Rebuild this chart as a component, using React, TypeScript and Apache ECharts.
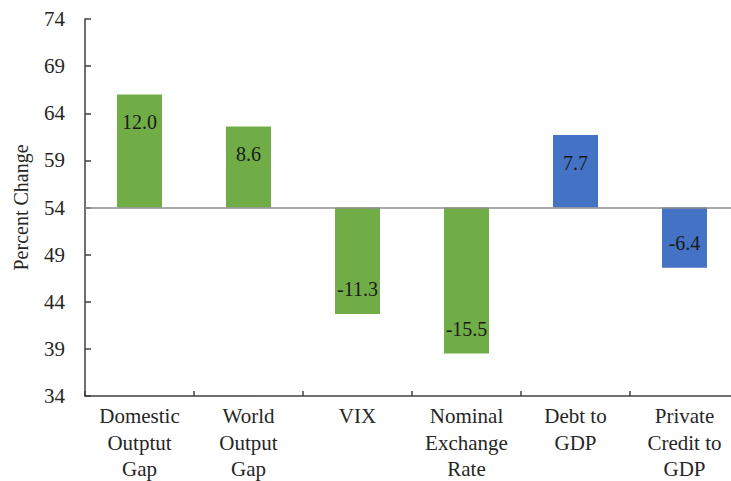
import React, { useEffect, useRef } from "react";
import * as echarts from "echarts";

const categories = [
  "Domestic\nOutptut\nGap",
  "World\nOutput\nGap",
  "VIX",
  "Nominal\nExchange\nRate",
  "Debt to\nGDP",
  "Private\nCredit to\nGDP",
];
const values = [12.0, 8.6, -11.3, -15.5, 7.7, -6.4];
const barColors = ["#70AD47", "#70AD47", "#70AD47", "#70AD47", "#4472C4", "#4472C4"];
const BASELINE = 54;
const yMin = 34;
const yMax = 74;
const yInterval = 5;

const FONT = "'Liberation Serif', 'Times New Roman', serif";

export default function App() {
  const ref = useRef<HTMLDivElement>(null);
  useEffect(() => {
    if (!ref.current) return;
    const chart = echarts.init(ref.current, undefined, { renderer: "svg" });
    const txt = { fontFamily: FONT, fontSize: 20, color: "#262626" };
    chart.setOption({
      animation: false,
      backgroundColor: "#ffffff",
      textStyle: { fontFamily: FONT },
      grid: {
        left: 85,
        top: 19,
        width: 654,
        bottom: 85,
        containLabel: false,
        outerBoundsMode: "none",
      },
      xAxis: {
        type: "category",
        data: categories,
        axisLine: { onZero: false, lineStyle: { color: "#404040", width: 1.5 } },
        axisTick: { show: true, inside: true, length: 5, lineStyle: { color: "#404040", width: 1.5 } },
        axisLabel: {
          ...txt,
          fontSize: 21,
          lineHeight: 26.5,
          margin: 7,
          interval: 0,
          hideOverlap: false,
        },
      },
      yAxis: {
        type: "value",
        min: yMin - BASELINE,
        max: yMax - BASELINE,
        interval: yInterval,
        name: "Percent Change",
        nameLocation: "middle",
        nameGap: 54,
        nameTextStyle: { ...txt },
        axisLine: { show: true, lineStyle: { color: "#404040", width: 1.5 } },
        axisTick: { show: true, inside: true, length: 6, lineStyle: { color: "#404040", width: 1.5 } },
        splitLine: { show: false },
        axisLabel: {
          ...txt,
          fontSize: 21,
          margin: 20,
          formatter: (v: number) => String(v + BASELINE),
        },
      },
      series: [
        {
          type: "bar",
          barWidth: 45,
          data: values.map((v, i) => ({
            value: v,
            itemStyle: { color: barColors[i] },
            label: {
              show: true,
              position: v >= 0 ? "insideTop" : "insideBottom",
              distance: v >= 0 ? 18 : 15,
              formatter: () => v.toFixed(1),
              ...txt,
              color: "#1a1a1a",
            },
          })),
          markLine: {
            silent: true,
            symbol: "none",
            label: { show: false },
            lineStyle: { color: "#8c8c8c", width: 1.5, type: "solid" },
            data: [{ yAxis: 0 }],
          },
        },
      ],
    });
    return () => chart.dispose();
  }, []);
  return (
    <div style={{ position: "fixed", left: 0, top: 0, width: 731, height: 481, background: "#fff" }}>
      <div ref={ref} style={{ width: 731, height: 481 }} />
    </div>
  );
}
